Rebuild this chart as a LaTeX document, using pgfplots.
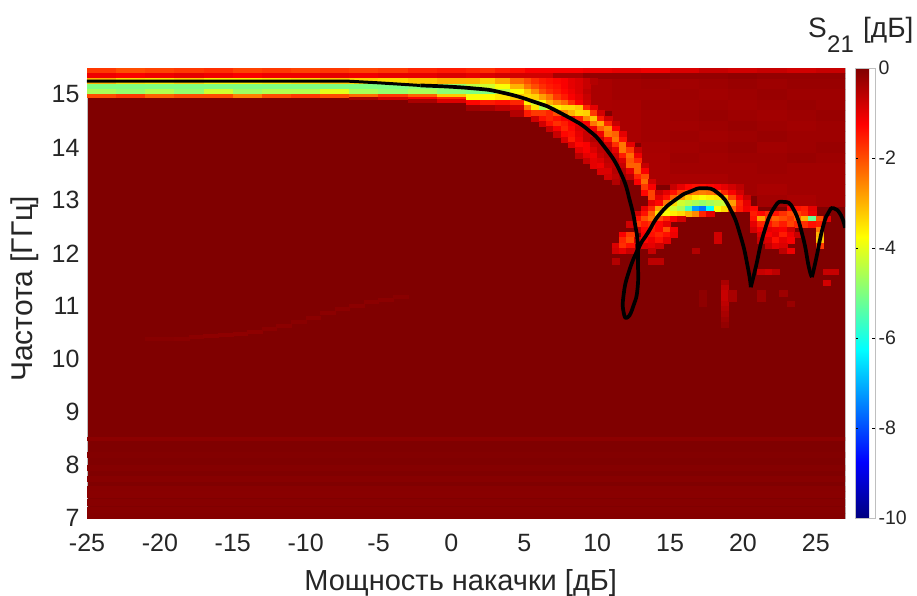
\documentclass[border=0pt]{standalone}
\usepackage{fontspec}
\setmainfont{Liberation Sans}
\usepackage{pgfplots}
\pgfplotsset{compat=1.18}
\definecolor{txt}{gray}{0.15}
\pgfplotsset{
  cell/.style 2 args={scatter, only marks, mark=square*, mark size=1pt,
    point meta=explicit, clip marker paths=true,
    mark options={xscale=#1, yscale=#2, line width=0.25pt},
    scatter/use mapped color={draw=mapped color, fill=mapped color}},
}
\begin{document}
\begin{tikzpicture}[x=1pt,y=1pt]
\path[use as bounding box] (-87,-78) rectangle (830,518);
\begin{axis}[
  at={(0,0)}, anchor=south west, scale only axis, width=758pt, height=450pt,
  xmin=-25, xmax=27, ymin=7, ymax=15.5,
  axis background/.style={fill={rgb,255:red,128;green,0;blue,0}},
  axis line style={draw=gray!50, line width=0.4pt},
  xtick={-25,-20,...,25}, ytick={7,8,...,15},
  major tick length=0pt,
  /pgf/number format/assume math mode=true,
  tick label style={font=\fontsize{25}{27}\selectfont, text=txt},
  yticklabel style={xshift=-4pt},
  xticklabel style={yshift=-13pt},
  xlabel={Мощность накачки [дБ]}, ylabel={Частота [ГГц]},
  every axis x label/.style={at={(axis description cs:0.493,0)}, anchor=center, yshift=-65pt, font=\fontsize{29}{31}\selectfont, text=txt},
  every axis y label/.style={at={(axis description cs:0,0.509)}, anchor=center, rotate=90, yshift=62pt, font=\fontsize{30}{32}\selectfont, text=txt},
  colormap/jet, point meta min=-10, point meta max=0,
  colorbar,
  colorbar style={
    at={(1.0132,1)}, anchor=north west, width=20pt,
    ytick={-10,-8,...,0}, major tick length=3pt, tick align=inside,
    tick style={draw=black, line width=0.4pt},
    axis line style={draw=gray!50, line width=0.4pt},
    yticklabel pos=right,
    /pgf/number format/assume math mode=true,
    tick label style={font=\fontsize{19.5}{22}\selectfont, text=txt},
    yticklabel style={xshift=0pt},
  },
]
% full-width faint rows
\addplot[cell={378.7}{2.65}, forget plot] table[x=x,y=y,meta=c,row sep=\\]{x y c\\
1 8.2 -0.03\\ 1 7.95 -0.05\\ 1 7.75 -0.07\\ 1 7.55 -0.08\\ 1 7.45 -0.09\\ 1 7.3 -0.07\\ 1 7.15 -0.07\\ 1 7.05 -0.05\\
};
\addplot[cell={378.7}{1.5}, forget plot] table[x=x,y=y,meta=c,row sep=\\]{x y c\\
1 8.5 -0.12\\
};
% faint background above the ridge, right part
\addplot[cell={14.56}{5.29}, forget plot] table[x=x,y=y,meta=c,row sep=\\]{x y c\\
10 15.2 -0.4\\ 12 15.2 -0.33\\ 14 15.2 -0.3\\ 16 15.2 -0.33\\ 18 15.2 -0.3\\ 20 15.2 -0.25\\ 22 15.2 -0.3\\ 24 15.2 -0.25\\ 26 15.2 -0.25\\
10 15.0 -0.4\\ 12 15.0 -0.33\\ 14 15.0 -0.33\\ 16 15.0 -0.3\\ 18 15.0 -0.33\\ 20 15.0 -0.3\\ 22 15.0 -0.25\\ 24 15.0 -0.3\\ 26 15.0 -0.3\\
10 14.8 -0.4\\ 12 14.8 -0.38\\ 14 14.8 -0.3\\ 16 14.8 -0.33\\ 18 14.8 -0.3\\ 20 14.8 -0.33\\ 22 14.8 -0.3\\ 24 14.8 -0.25\\ 26 14.8 -0.3\\
12 14.6 -0.4\\ 14 14.6 -0.33\\ 16 14.6 -0.3\\ 18 14.6 -0.25\\ 20 14.6 -0.3\\ 22 14.6 -0.33\\ 24 14.6 -0.3\\ 26 14.6 -0.25\\
12 14.4 -0.4\\ 14 14.4 -0.33\\ 16 14.4 -0.33\\ 18 14.4 -0.3\\ 20 14.4 -0.25\\ 22 14.4 -0.3\\ 24 14.4 -0.33\\ 26 14.4 -0.3\\
12 14.2 -0.4\\ 14 14.2 -0.33\\ 16 14.2 -0.3\\ 18 14.2 -0.33\\ 20 14.2 -0.3\\ 22 14.2 -0.25\\ 24 14.2 -0.3\\ 26 14.2 -0.3\\
14 14.0 -0.38\\ 16 14.0 -0.33\\ 18 14.0 -0.3\\ 20 14.0 -0.25\\ 22 14.0 -0.33\\ 24 14.0 -0.3\\ 26 14.0 -0.25\\
14 13.8 -0.4\\ 16 13.8 -0.3\\ 18 13.8 -0.33\\ 20 13.8 -0.3\\ 22 13.8 -0.3\\ 24 13.8 -0.25\\ 26 13.8 -0.3\\
14 13.6 -0.4\\ 16 13.6 -0.33\\ 18 13.6 -0.33\\ 20 13.6 -0.33\\ 22 13.6 -0.3\\ 24 13.6 -0.33\\ 26 13.6 -0.33\\
14 13.4 -0.4\\ 16 13.4 -0.4\\ 18 13.4 -0.4\\ 20 13.4 -0.33\\ 22 13.4 -0.33\\ 24 13.4 -0.33\\ 26 13.4 -0.33\\
20 13.2 -0.33\\ 22 13.2 -0.4\\ 24 13.2 -0.33\\ 26 13.2 -0.33\\
22 13.0 -0.33\\ 24 13.0 -0.4\\ 26 13.0 -0.33\\
};
% top band
\addplot[cell={14.56}{2.65}, forget plot] table[x=x,y=y,meta=c,row sep=\\]{x y c\\
6 15.45 -1.2\\ 8 15.45 -1.2\\ 10 15.45 -1.1\\ 12 15.45 -1.0\\ 14 15.45 -1.1\\ 16 15.45 -0.9\\ 18 15.45 -0.7\\ 20 15.45 -0.8\\ 22 15.45 -0.7\\ 24 15.45 -0.8\\ 26 15.45 -0.7\\
6 15.35 -0.8\\ 8 15.35 -0.4\\ 10 15.35 -0.2\\ 12 15.35 -0.2\\ 14 15.35 -0.15\\ 16 15.35 -0.2\\ 18 15.35 -0.2\\ 20 15.35 -0.15\\ 22 15.35 -0.2\\ 24 15.35 -0.2\\ 26 15.35 -0.2\\
-24 15.45 -1.8\\ -22 15.45 -2.0\\ -20 15.45 -1.9\\ -18 15.45 -1.8\\ -16 15.45 -1.7\\ -14 15.45 -1.9\\ -12 15.45 -1.8\\ -10 15.45 -1.9\\ -8 15.45 -1.8\\ -6 15.45 -1.9\\ -4 15.45 -1.8\\ -2 15.45 -1.6\\ 0 15.45 -1.5\\
-24 15.35 -1.1\\ -22 15.35 -1.2\\ -20 15.35 -1.1\\ -18 15.35 -1.0\\ -16 15.35 -1.1\\ -14 15.35 -1.2\\ -12 15.35 -1.1\\ -10 15.35 -1.1\\ -8 15.35 -1.0\\ -6 15.35 -1.1\\ -4 15.35 -1.0\\ -2 15.35 -1.0\\ 0 15.35 -0.9\\
-24 15.25 -3.0\\ -22 15.25 -3.4\\ -20 15.25 -3.5\\ -18 15.25 -3.3\\ -16 15.25 -3.6\\ -14 15.25 -3.6\\ -12 15.25 -3.5\\ -10 15.25 -3.4\\ -8 15.25 -3.2\\ -6 15.25 -3.3\\ -4 15.25 -3.4\\ -2 15.25 -3.2\\ 0 15.25 -3.0\\
-24 15.15 -5.0\\ -22 15.15 -5.0\\ -20 15.15 -5.0\\ -18 15.15 -5.0\\ -16 15.15 -5.0\\ -14 15.15 -5.0\\ -12 15.15 -5.0\\ -10 15.15 -5.0\\ -8 15.15 -5.0\\ -6 15.15 -5.0\\ -4 15.15 -5.0\\ -2 15.15 -4.9\\ 0 15.15 -4.8\\
-24 15.05 -4.6\\ -22 15.05 -4.8\\ -20 15.05 -4.5\\ -18 15.05 -4.8\\ -16 15.05 -4.2\\ -14 15.05 -4.7\\ -12 15.05 -4.5\\ -10 15.05 -4.5\\ -8 15.05 -4.0\\ -6 15.05 -4.6\\ -4 15.05 -4.8\\ -2 15.05 -4.6\\ 0 15.05 -4.9\\
};
\addplot[cell={14.56}{1.4}, forget plot] table[x=x,y=y,meta=c,row sep=\\]{x y c\\
-24 14.98 -2.0\\ -22 14.98 -1.8\\ -20 14.98 -2.2\\ -18 14.98 -2.0\\ -16 14.98 -2.0\\ -14 14.98 -2.5\\ -12 14.98 -2.0\\ -10 14.98 -1.8\\ -8 14.98 -2.0\\ -6 14.98 -2.3\\ -4 14.98 -1.8\\ -2 14.98 -2.2\\ 0 14.98 -3.2\\
-6 14.93 -0.4\\ -4 14.93 -0.8\\ -2 14.93 -1.2\\ 0 14.93 -1.6\\
-2 14.88 -0.4\\ 0 14.88 -0.9\\
};
% faint diagonal streak
\addplot[cell={7.28}{1.5}, forget plot] table[x=x,y=y,meta=c,row sep=\\]{x y c\\
-20.5 10.38 -0.08\\ -19.5 10.38 -0.08\\ -18.5 10.39 -0.1\\ -17.5 10.42 -0.12\\ -16.5 10.44 -0.15\\ -15.5 10.46 -0.15\\ -14.5 10.48 -0.15\\ -13.5 10.52 -0.15\\ -12.5 10.58 -0.12\\ -11.5 10.64 -0.12\\ -10.5 10.7 -0.1\\ -9.5 10.78 -0.12\\ -8.5 10.88 -0.12\\ -7.5 10.95 -0.12\\ -6.5 11.02 -0.12\\ -5.5 11.08 -0.12\\ -4.5 11.13 -0.12\\ -3.5 11.19 -0.1\\
};
% band between 1 and 5 dB
\addplot[cell={7.28}{2.65}, forget plot] table[x=x,y=y,meta=c,row sep=\\]{x y c\\
1.5 15.45 -1.6\\ 2.5 15.45 -1.7\\ 3.5 15.45 -1.5\\ 4.5 15.45 -1.4\\
1.5 15.35 -1.0\\ 2.5 15.35 -0.9\\ 3.5 15.35 -0.8\\ 4.5 15.35 -0.8\\
1.5 15.25 -3.0\\ 2.5 15.25 -3.3\\ 3.5 15.25 -2.9\\ 4.5 15.25 -2.3\\
1.5 15.15 -4.4\\ 2.5 15.15 -4.2\\ 3.5 15.15 -3.8\\ 4.5 15.15 -3.0\\
1.5 15.05 -5.0\\ 2.5 15.05 -5.0\\ 3.5 15.05 -4.4\\ 4.5 15.05 -3.8\\
1.5 14.95 -3.8\\ 2.5 14.95 -3.7\\ 3.5 14.95 -3.5\\ 4.5 14.95 -3.2\\
1.5 14.85 -1.3\\ 2.5 14.85 -1.5\\ 3.5 14.85 -1.4\\ 4.5 14.85 -1.6\\
1.5 14.75 -0.3\\ 2.5 14.75 -0.4\\ 3.5 14.75 -0.6\\ 4.5 14.75 -0.8\\
4.5 14.65 -0.5\\
};
% ridge and resonance features
\addplot[cell={3.64}{2.65}, forget plot] table[x=x,y=y,meta=c,row sep=\\]{x y c\\
5.25 15.25 -2.0\\ 5.75 15.25 -1.7\\ 6.25 15.25 -1.5\\ 6.75 15.25 -1.4\\ 7.25 15.25 -1.3\\ 7.75 15.25 -1.2\\ 8.25 15.25 -1\\ 8.75 15.25 -.9\\ 9.25 15.25 -.7\\ 9.75 15.25 -.5\\
5.25 15.15 -2.4\\ 5.75 15.15 -2.0\\ 6.25 15.15 -1.7\\ 6.75 15.15 -1.5\\ 7.25 15.15 -1.4\\ 7.75 15.15 -1.2\\ 8.25 15.15 -1\\ 8.75 15.15 -.9\\ 9.25 15.15 -.7\\
5.25 15.05 -3.2\\ 5.75 15.05 -2.6\\ 6.25 15.05 -2\\ 6.75 15.05 -1.7\\ 7.25 15.05 -1.5\\ 7.75 15.05 -1.3\\ 8.25 15.05 -1.1\\ 8.75 15.05 -.9\\ 9.25 15.05 -.6\\
5.25 14.95 -3.4\\ 5.75 14.95 -3.3\\ 6.25 14.95 -2.8\\ 6.75 14.95 -2.4\\ 7.25 14.95 -1.8\\ 7.75 14.95 -1.5\\ 8.25 14.95 -1.2\\ 8.75 14.95 -1\\ 9.25 14.95 -.7\\
5.25 14.85 -3.6\\ 5.75 14.85 -4.2\\ 6.25 14.85 -3.8\\ 6.75 14.85 -3\\ 7.25 14.85 -2.6\\ 7.75 14.85 -2.3\\ 8.25 14.85 -1.7\\ 8.75 14.85 -1.2\\ 9.25 14.85 -.8\\
5.25 14.75 -2.4\\ 5.75 14.75 -3.5\\ 6.25 14.75 -4.6\\ 6.75 14.75 -4.2\\ 7.25 14.75 -3.6\\ 7.75 14.75 -3.4\\ 8.25 14.75 -3.4\\ 8.75 14.75 -3.2\\ 9.25 14.75 -1.6\\ 9.75 14.75 -1\\
5.25 14.65 -1.5\\ 5.75 14.65 -1.8\\ 6.25 14.65 -1.8\\ 6.75 14.65 -1.6\\ 7.25 14.65 -2\\ 7.75 14.65 -2.6\\ 8.25 14.65 -3\\ 8.75 14.65 -3.4\\ 9.25 14.65 -3.3\\ 9.75 14.65 -1.8\\ 10.25 14.65 -.8\\
5.75 14.55 -.8\\ 6.25 14.55 -1.4\\ 6.75 14.55 -1.6\\ 7.25 14.55 -1.4\\ 7.75 14.55 -1.2\\ 8.25 14.55 -1\\ 8.75 14.55 -1.6\\ 9.25 14.55 -2.6\\ 9.75 14.55 -3.2\\ 10.25 14.55 -1.5\\ 10.75 14.55 -.8\\
6.25 14.45 -.8\\ 6.75 14.45 -1.4\\ 7.25 14.45 -1.7\\ 7.75 14.45 -1.5\\ 8.25 14.45 -1.2\\ 8.75 14.45 -1\\ 9.25 14.45 -1.2\\ 9.75 14.45 -2.4\\ 10.25 14.45 -2.9\\ 10.75 14.45 -1.6\\ 11.25 14.45 -.7\\
6.75 14.35 -.7\\ 7.25 14.35 -1.2\\ 7.75 14.35 -1.6\\ 8.25 14.35 -1.3\\ 8.75 14.35 -.9\\ 9.25 14.35 -.9\\ 9.75 14.35 -1.1\\ 10.25 14.35 -2.2\\ 10.75 14.35 -2.6\\ 11.25 14.35 -1.2\\
7.25 14.25 -.7\\ 7.75 14.25 -1.3\\ 8.25 14.25 -1.4\\ 8.75 14.25 -1\\ 9.25 14.25 -.7\\ 9.75 14.25 -.8\\ 10.25 14.25 -1.1\\ 10.75 14.25 -2.4\\ 11.25 14.25 -2.2\\ 11.75 14.25 -1\\
7.75 14.15 -.9\\ 8.25 14.15 -1.5\\ 8.75 14.15 -1.1\\ 9.25 14.15 -.7\\ 9.75 14.15 -.5\\ 10.25 14.15 -.7\\ 10.75 14.15 -1.4\\ 11.25 14.15 -2.4\\ 11.75 14.15 -1.4\\
8.25 14.05 -.9\\ 8.75 14.05 -1.3\\ 9.25 14.05 -1.2\\ 9.75 14.05 -.7\\ 10.25 14.05 -.6\\ 10.75 14.05 -.8\\ 11.25 14.05 -1.7\\ 11.75 14.05 -2.4\\ 12.25 14.05 -1\\
8.75 13.95 -1\\ 9.25 13.95 -1.2\\ 9.75 13.95 -.9\\ 10.25 13.95 -.6\\ 10.75 13.95 -.6\\ 11.25 13.95 -1\\ 11.75 13.95 -2.4\\ 12.25 13.95 -1.8\\ 12.75 13.95 -.7\\
8.75 13.85 -.6\\ 9.25 13.85 -1\\ 9.75 13.85 -1.1\\ 10.25 13.85 -.7\\ 10.75 13.85 -.5\\ 11.25 13.85 -.7\\ 11.75 13.85 -1.5\\ 12.25 13.85 -2.3\\ 12.75 13.85 -1.1\\
9.25 13.75 -.7\\ 9.75 13.75 -1\\ 10.25 13.75 -.9\\ 10.75 13.75 -.6\\ 11.25 13.75 -.6\\ 11.75 13.75 -.9\\ 12.25 13.75 -2.1\\ 12.75 13.75 -1.6\\
9.75 13.65 -1\\ 10.25 13.65 -1.1\\ 10.75 13.65 -.7\\ 11.25 13.65 -.6\\ 11.75 13.65 -.7\\ 12.25 13.65 -2.2\\ 12.75 13.65 -2.2\\ 13.25 13.65 -.7\\
10.25 13.55 -.9\\ 10.75 13.55 -.9\\ 11.25 13.55 -.5\\ 11.75 13.55 -.5\\ 12.25 13.55 -1\\ 12.75 13.55 -2.2\\ 13.25 13.55 -1.2\\
10.75 13.45 -.8\\ 11.25 13.45 -.6\\ 11.75 13.45 -.4\\ 12.25 13.45 -.6\\ 12.75 13.45 -1.6\\ 13.25 13.45 -2\\
11.25 13.35 -.5\\ 12.75 13.35 -1.2\\ 13.25 13.35 -2.3\\ 13.75 13.35 -.8\\
13.25 13.25 -1.8\\ 13.75 13.25 -1.2\\
13.25 13.15 -1.3\\ 13.75 13.15 -1.9\\
13.75 13.05 -1.9\\
15.25 13.25 -.7\\ 15.75 13.25 -1\\ 16.25 13.25 -1.3\\ 16.75 13.25 -1.4\\ 17.25 13.25 -1.4\\ 17.75 13.25 -1.3\\ 18.25 13.25 -1.2\\ 18.75 13.25 -1\\ 19.25 13.25 -.8\\ 19.75 13.25 -.6\\
14.25 13.15 -.7\\ 14.75 13.15 -1\\ 15.25 13.15 -1.4\\ 15.75 13.15 -1.9\\ 16.25 13.15 -2.2\\ 16.75 13.15 -2.4\\ 17.25 13.15 -2.5\\ 17.75 13.15 -2.4\\ 18.25 13.15 -2.2\\ 18.75 13.15 -1.6\\ 19.25 13.15 -1.2\\ 19.75 13.15 -.8\\
14.25 13.05 -1\\ 14.75 13.05 -1.4\\ 15.25 13.05 -2.2\\ 15.75 13.05 -2.8\\ 16.25 13.05 -3.3\\ 16.75 13.05 -3.6\\ 17.25 13.05 -3.8\\ 17.75 13.05 -3.6\\ 18.25 13.05 -3.5\\ 18.75 13.05 -3\\ 19.25 13.05 -1.9\\ 19.75 13.05 -1.2\\ 20.25 13.05 -.7\\
13.75 12.95 -1\\ 14.25 12.95 -1.3\\ 14.75 12.95 -2.4\\ 15.25 12.95 -3.4\\ 15.75 12.95 -4.2\\ 16.25 12.95 -4.4\\ 16.75 12.95 -4.6\\ 17.25 12.95 -4.8\\ 17.75 12.95 -4.6\\ 18.25 12.95 -4.4\\ 18.75 12.95 -4.3\\ 19.25 12.95 -2.8\\ 19.75 12.95 -1.6\\ 20.25 12.95 -1\\
13.25 12.85 -1\\ 13.75 12.85 -1.6\\ 14.25 12.85 -2.8\\ 14.75 12.85 -3.6\\ 15.25 12.85 -4.2\\ 15.75 12.85 -4.6\\ 16.25 12.85 -5.6\\ 16.75 12.85 -7.2\\ 17.25 12.85 -7.6\\ 17.75 12.85 -6.2\\ 18.25 12.85 -3.8\\ 18.75 12.85 -3.4\\ 19.25 12.85 -2.2\\ 19.75 12.85 -1.5\\ 20.25 12.85 -1.1\\ 20.75 12.85 -1.3\\ 23.25 12.85 -1.2\\ 23.75 12.85 -1.4\\ 24.25 12.85 -1.5\\ 24.75 12.85 -1\\
12.75 12.75 -.8\\ 13.25 12.75 -1.4\\ 13.75 12.75 -2.2\\ 14.25 12.75 -3.4\\ 14.75 12.75 -3.8\\ 15.25 12.75 -3.6\\ 15.75 12.75 -3.4\\ 16.25 12.75 -3\\ 16.75 12.75 -2.6\\ 17.25 12.75 -1.6\\ 17.75 12.75 -1\\ 20.75 12.75 -1.5\\ 21.25 12.75 -1.3\\ 21.75 12.75 -1.6\\ 22.25 12.75 -1.4\\ 22.75 12.75 -1.7\\ 23.25 12.75 -2\\ 23.75 12.75 -1.9\\ 24.25 12.75 -1.6\\ 24.75 12.75 -1.1\\
12.75 12.65 -1.4\\ 13.25 12.65 -2\\ 13.75 12.65 -2.4\\ 14.25 12.65 -2\\ 14.75 12.65 -1.6\\ 15.25 12.65 -1.2\\ 15.75 12.65 -.8\\ 20.75 12.65 -1.4\\ 21.25 12.65 -2.8\\ 21.75 12.65 -1.9\\ 22.25 12.65 -2.2\\ 22.75 12.65 -2\\ 23.25 12.65 -1.8\\ 23.75 12.65 -2.2\\ 24.25 12.65 -3\\ 24.75 12.65 -5.2\\ 25.25 12.65 -2\\ 25.75 12.65 -1\\
12.25 12.55 -.8\\ 12.75 12.55 -1.8\\ 13.25 12.55 -1.5\\ 13.75 12.55 -1.7\\ 14.25 12.55 -1.3\\ 14.75 12.55 -1\\ 20.75 12.55 -1\\ 21.25 12.55 -1.6\\ 21.75 12.55 -1.4\\ 22.25 12.55 -1.8\\ 22.75 12.55 -1.5\\ 23.25 12.55 -1.9\\ 23.75 12.55 -1.6\\ 24.25 12.55 -1.7\\ 24.75 12.55 -1.4\\ 25.25 12.55 -1.5\\
12.75 12.45 -.7\\ 13.25 12.45 -1.3\\ 13.75 12.45 -1.5\\ 14.25 12.45 -1.3\\ 14.75 12.45 -2.0\\ 15.25 12.45 -1.2\\ 20.75 12.45 -.8\\ 21.25 12.45 -1.2\\ 21.75 12.45 -1\\ 22.25 12.45 -1.1\\ 22.75 12.45 -1.2\\ 23.25 12.45 -.8\\ 25.25 12.45 -2.4\\
11.75 12.35 -1.2\\ 12.25 12.35 -1.8\\ 13.25 12.35 -1.2\\ 13.75 12.35 -1.4\\ 14.25 12.35 -1.6\\ 14.75 12.35 -1.4\\ 15.25 12.35 -1.1\\ 18.25 12.35 -.8\\ 21.25 12.35 -.9\\ 21.75 12.35 -1.2\\ 22.25 12.35 -1\\ 22.75 12.35 -1.5\\ 23.25 12.35 -1.1\\ 23.75 12.35 -.7\\ 25.25 12.35 -3\\
11.75 12.25 -1.6\\ 12.25 12.25 -2\\ 12.75 12.25 -.9\\ 13.25 12.25 -1.3\\ 13.75 12.25 -1.1\\ 14.25 12.25 -1.4\\ 14.75 12.25 -1\\ 18.25 12.25 -.8\\ 21.25 12.25 -.7\\ 21.75 12.25 -.9\\ 22.25 12.25 -1.4\\ 22.75 12.25 -1\\ 23.25 12.25 -1.2\\ 25.25 12.25 -3.2\\
11.25 12.15 -.9\\ 11.75 12.15 -1.7\\ 12.25 12.15 -1.4\\ 13.25 12.15 -.9\\ 13.75 12.15 -1\\ 14.25 12.15 -.8\\ 21.75 12.15 -.7\\ 22.25 12.15 -1\\ 22.75 12.15 -.9\\ 25.25 12.15 -1.8\\
11.25 12.05 -.8\\ 11.75 12.05 -1\\ 12.25 12.05 -.7\\ 13.75 12.05 -.7\\ 22.75 12.05 -.6\\ 23.25 12.05 -1.1\\
11.25 11.85 -.5\\ 13.75 11.85 -.6\\ 14.25 11.85 -.6\\ 16.75 12.05 -.5\\
21.25 11.65 -.7\\ 21.75 11.65 -.8\\ 22.25 11.65 -.6\\ 25.75 11.65 -.7\\ 26.25 11.65 -.7\\ 25.75 11.45 -.8\\
18.75 11.45 -.4\\ 18.75 11.35 -.6\\ 18.75 11.25 -.7\\ 18.75 11.15 -.7\\ 18.75 11.05 -.6\\ 18.75 10.95 -.5\\ 18.75 10.85 -.4\\ 18.75 10.75 -.3\\ 18.75 10.65 -.2\\
19.25 11.25 -.4\\ 19.25 11.15 -.4\\ 17.25 11.25 -.15\\ 17.25 11.15 -.15\\ 17.25 11.05 -.15\\ 21.25 11.25 -.3\\ 21.25 11.15 -.3\\ 22.75 11.25 -.3\\ 23.25 11.05 -.25\\
};
% black curve
\addplot[black, line width=3pt, forget plot] coordinates {
(-25,15.25)(-16,15.25)(-7,15.25)(-5,15.22)(-2.13,15.17)
};
\addplot[black, line width=3.7pt, smooth, tension=0.9, line join=round, forget plot] coordinates {
(-2.13,15.17)(1.3,15.12)(3.57,15.03)(5.91,14.84)(7,14.72)(8.17,14.55)(9.34,14.34)(10.44,14.03)(11.61,13.52)(12.29,12.94)(12.64,12.48)(12.77,12.21)(12.8,11.83)(12.77,11.34)(12.5,11.02)(12.09,10.79)(11.81,10.89)(11.81,11.21)(12.16,11.64)(12.84,12.1)(13.46,12.38)(14.35,12.76)(15.52,13.04)(16.41,13.17)(17.31,13.23)(18.27,13.14)(19.16,12.82)(19.85,12.31)(20.33,11.74)(20.54,11.36)
};
\addplot[black, line width=3.7pt, smooth, tension=0.9, line join=round, forget plot] coordinates {
(20.54,11.36)(20.88,11.74)(21.43,12.38)(22.12,12.85)(22.8,12.97)(23.49,12.82)(24.11,12.31)(24.52,11.74)(24.73,11.55)
};
\addplot[black, line width=3.7pt, smooth, tension=0.9, line join=round, forget plot] coordinates {
(24.73,11.55)(25,11.87)(25.48,12.49)(25.89,12.78)(26.24,12.85)(26.72,12.72)(27,12.48)
};
\end{axis}
\node[anchor=base west, text=txt, inner sep=0pt, font=\fontsize{28}{30}\selectfont] at (721,480) {S};
\node[anchor=base west, text=txt, inner sep=0pt, font=\fontsize{24}{26}\selectfont] at (740,465) {21};
\node[anchor=base west, text=txt, inner sep=0pt, font=\fontsize{28}{30}\selectfont] at (776,480) {[дБ]};
\end{tikzpicture}
\end{document}
